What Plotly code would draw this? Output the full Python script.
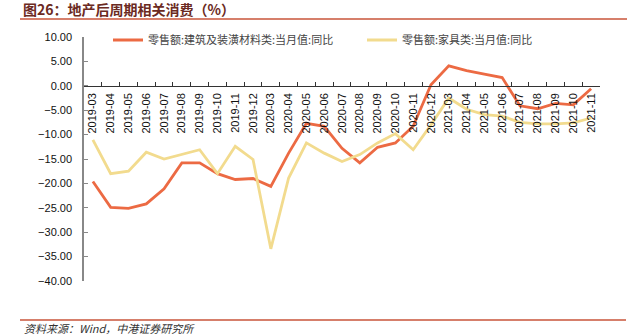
import plotly.graph_objects as go

months = ["2019-03","2019-04","2019-05","2019-06","2019-07","2019-08","2019-09","2019-10","2019-11","2019-12",
          "2020-03","2020-04","2020-05","2020-06","2020-07","2020-08","2020-09","2020-10","2020-11","2020-12",
          "2021-03","2021-04","2021-05","2021-06","2021-07","2021-08","2021-09","2021-10","2021-11"]
building = [-19.6,-24.9,-25.1,-24.2,-21.1,-15.8,-15.8,-18.0,-19.2,-19.0,
            -20.6,-13.8,-7.7,-8.3,-12.8,-15.8,-12.6,-11.7,-8.3,0.2,
            4.1,3.1,2.4,1.7,-4.1,-4.7,-3.6,-3.9,-0.6]
furniture = [-11.1,-18.0,-17.5,-13.6,-15.0,-14.1,-13.1,-18.0,-12.4,-15.1,
             -33.4,-18.9,-11.7,-13.8,-15.5,-14.1,-11.7,-9.8,-13.1,-8.0,
             -2.5,-4.8,-5.9,-6.2,-7.5,-7.8,-7.8,-7.6,-6.6]
name_building = "零售额:建筑及装潢材料类:当月值:同比"
name_furniture = "零售额:家具类:当月值:同比"
title_text = "图26：地产后周期相关消费（%）"
source_text = "资料来源：Wind，中港证券研究所"

fig = go.Figure()
fig.add_trace(go.Scatter(x=months, y=building, mode="lines", name=name_building,
                         line=dict(color="#EC6A43", width=2.8), legend="legend"))
fig.add_trace(go.Scatter(x=months, y=furniture, mode="lines", name=name_furniture,
                         line=dict(color="#F2DB8E", width=2.8), legend="legend2"))

leg_common = dict(orientation="h", yref="paper", y=1 - 3 / 244, yanchor="middle",
                  xanchor="left", xref="paper",
                  font=dict(family="Noto Sans CJK SC", size=11, color="#444"),
                  bgcolor="rgba(0,0,0,0)", itemwidth=30)

fig.update_layout(
    width=628, height=336,
    margin=dict(l=84, r=28, t=37, b=55, autoexpand=False),
    paper_bgcolor="white", plot_bgcolor="white",
    font=dict(family="Liberation Sans, Arial, sans-serif", size=11, color="#222"),
    showlegend=True,
    legend=dict(leg_common, x=(108 - 84) / 516),
    legend2=dict(leg_common, x=(362 - 84) / 516),
    xaxis=dict(type="category", anchor="free", position=0.8, automargin=False,
               showline=True, linecolor="#333", linewidth=1,
               ticks="inside", tickson="boundaries", ticklen=4, tickcolor="#333",
               tickangle=-90, showgrid=False, zeroline=False, ticklabelstandoff=2,
               tickfont=dict(family="Liberation Sans, Arial", size=11, color="#111"),
               range=[-0.5, len(months) - 0.5]),
    yaxis=dict(range=[-40, 10], dtick=5, tickformat=".2f", automargin=False,
               showline=True, linecolor="#888", linewidth=1.5,
               ticks="inside", ticklen=4, tickcolor="#888",
               showgrid=False, zeroline=False, ticklabelstandoff=8,
               tickfont=dict(family="Liberation Sans, Arial", size=11, color="#111")),
)

fig.add_annotation(text="<b>" + title_text + "</b>", xref="paper", yref="paper",
                   x=(21 - 84) / 516, y=1 + (37 - 9) / 244, xanchor="left", yanchor="middle",
                   showarrow=False,
                   font=dict(family="Noto Sans CJK SC", size=14, color="#6B2A22"))
fig.add_shape(type="line", xref="paper", yref="paper",
              x0=(20 - 84) / 516, x1=(627 - 84) / 516, y0=1 + (37 - 19) / 244, y1=1 + (37 - 19) / 244,
              line=dict(color="#C8553A", width=1.5))
fig.add_shape(type="line", xref="paper", yref="paper",
              x0=(20 - 84) / 516, x1=(626 - 84) / 516, y0=-(320 - 281) / 244, y1=-(320 - 281) / 244,
              line=dict(color="#C8553A", width=1.5))
fig.add_annotation(text="<i>" + source_text + "</i>", xref="paper", yref="paper",
                   x=(22 - 84) / 516, y=-(328 - 281) / 244, xanchor="left", yanchor="middle",
                   showarrow=False,
                   font=dict(family="Noto Sans CJK SC", size=11, color="#333"))

fig.write_html("out.html")
